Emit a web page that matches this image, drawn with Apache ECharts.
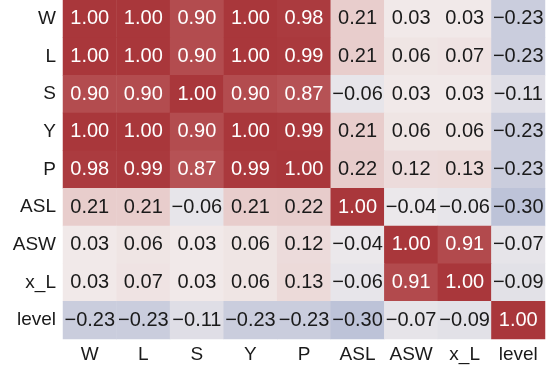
<!DOCTYPE html>
<html>
<head>
<meta charset="utf-8">
<script src="https://cdn.jsdelivr.net/npm/echarts@6/dist/echarts.min.js"></script>
<style>
  html, body { margin: 0; padding: 0; background: #fff; }
  #chart { width: 550px; height: 378px; }
</style>
</head>
<body>
<div id="chart"></div>
<script>
const labels = ['W', 'L', 'S', 'Y', 'P', 'ASL', 'ASW', 'x_L', 'level']
const rowW = [1.00, 1.00, 0.90, 1.00, 0.98, 0.21, 0.03, 0.03, -0.23]
const rowL = [1.00, 1.00, 0.90, 1.00, 0.99, 0.21, 0.06, 0.07, -0.23]
const rowS = [0.90, 0.90, 1.00, 0.90, 0.87, -0.06, 0.03, 0.03, -0.11]
const rowY = [1.00, 1.00, 0.90, 1.00, 0.99, 0.21, 0.06, 0.06, -0.23]
const rowP = [0.98, 0.99, 0.87, 0.99, 1.00, 0.22, 0.12, 0.13, -0.23]
const rowASL = [0.21, 0.21, -0.06, 0.21, 0.22, 1.00, -0.04, -0.06, -0.30]
const rowASW = [0.03, 0.06, 0.03, 0.06, 0.12, -0.04, 1.00, 0.91, -0.07]
const rowXL = [0.03, 0.07, 0.03, 0.06, 0.13, -0.06, 0.91, 1.00, -0.09]
const rowLevel = [-0.23, -0.23, -0.11, -0.23, -0.23, -0.30, -0.07, -0.09, 1.00]
const rows = [rowW, rowL, rowS, rowY, rowP, rowASL, rowASW, rowXL, rowLevel]

let data = []
rows.forEach((row, i) => {
  row.forEach((v, j) => {
    data.push({
      value: [j, i, v],
      label: { color: v > 0.5 ? '#ffffff' : '#1a1a1a' }
    })
  })
})

let myChart = echarts.init(document.getElementById('chart'))
myChart.setOption({
  backgroundColor: '#ffffff',
  textStyle: { fontFamily: 'Liberation Sans, Arial, sans-serif' },
  grid: {
    top: 0,
    left: 63,
    right: 5,
    bottom: 39
  },
  xAxis: {
    type: 'category',
    data: labels,
    axisLine: { show: false },
    axisTick: { show: false },
    splitLine: { show: false },
    axisLabel: {
      color: '#1a1a1a',
      fontSize: 19,
      interval: 0,
      margin: 6
    }
  },
  yAxis: {
    type: 'category',
    data: labels,
    inverse: true,
    axisLine: { show: false },
    axisTick: { show: false },
    splitLine: { show: false },
    axisLabel: {
      color: '#1a1a1a',
      fontSize: 19,
      interval: 0,
      margin: 7
    }
  },
  visualMap: {
    show: false,
    min: -1,
    max: 1,
    dimension: 2,
    inRange: {
      color: ['#2369bd', '#9aa7c9', '#f2eeee', '#daa09e', '#a9373b']
    }
  },
  series: [{
    type: 'heatmap',
    data: data,
    itemStyle: { borderWidth: 0 },
    label: {
      show: true,
      fontSize: 20,
      formatter: p => p.value[2].toFixed(2).replace('-', '\u2212')
    },
    emphasis: { disabled: true }
  }]
})
</script>
</body>
</html>
